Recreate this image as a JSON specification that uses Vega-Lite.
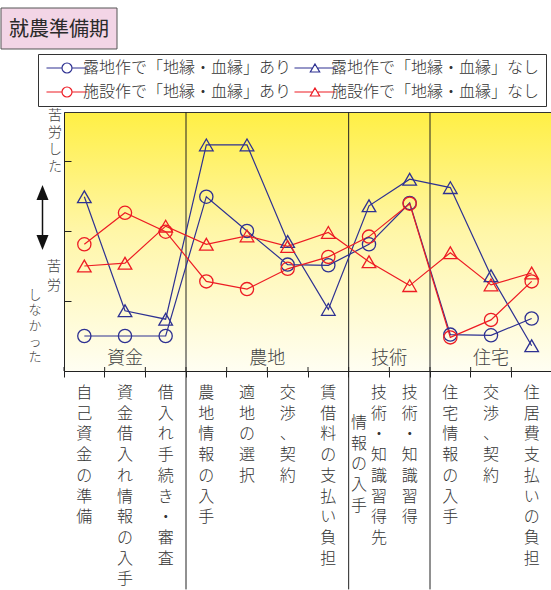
{
  "$schema": "https://vega.github.io/schema/vega-lite/v6.json",
  "autosize": {"type": "none"},
  "padding": {"left": 64, "top": 112, "right": 0, "bottom": 220},
  "width": 488,
  "height": 259,
  "config": {
    "font": "Noto Sans CJK JP",
    "text": {"fontWeight": 300},
    "axis": {"domainColor": "#222", "tickColor": "#222", "domainWidth": 1, "tickWidth": 1, "grid": false, "labels": false},
    "legend": {
      "orient": "none", "legendX": -26, "legendY": -58, "columns": 2, "direction": "horizontal",
      "symbolSize": 144, "symbolStrokeWidth": 1.2, "symbolOffset": 15, "labelOffset": 8,
      "labelFontSize": 16, "labelFontWeight": 300, "labelColor": "#333333", "labelFont": "Noto Sans CJK JP", "labelLimit": 0,
      "columnPadding": -4, "rowPadding": 8, "padding": 6, "strokeColor": "#333333", "fillColor": "#ffffff"
    }
  },
  "view": {
    "fill": {"gradient": "linear", "x1": 0, "y1": 0, "x2": 0, "y2": 1, "stops": [
      {"offset": 0, "color": "#ffef45"},
      {"offset": 0.45, "color": "#fff6a6"},
      {"offset": 1, "color": "#fffef2"}
    ]},
    "stroke": "#333333",
    "strokeWidth": 1
  },
  "datasets": {
    "points": [
      {"series": "露地作で「地縁・血縁」あり", "item": "自己資金の準備", "value": 0.50},
      {"series": "露地作で「地縁・血縁」あり", "item": "資金借入れ情報の入手", "value": 0.50},
      {"series": "露地作で「地縁・血縁」あり", "item": "借入れ手続き・審査", "value": 0.50},
      {"series": "露地作で「地縁・血縁」あり", "item": "農地情報の入手", "value": 2.49},
      {"series": "露地作で「地縁・血縁」あり", "item": "適地の選択", "value": 2.00},
      {"series": "露地作で「地縁・血縁」あり", "item": "交渉、契約（農地）", "value": 1.52},
      {"series": "露地作で「地縁・血縁」あり", "item": "賃借料の支払い負担", "value": 1.51},
      {"series": "露地作で「地縁・血縁」あり", "item": "技術・知識習得先情報の入手", "value": 1.81},
      {"series": "露地作で「地縁・血縁」あり", "item": "技術・知識習得", "value": 2.40},
      {"series": "露地作で「地縁・血縁」あり", "item": "住宅情報の入手", "value": 0.52},
      {"series": "露地作で「地縁・血縁」あり", "item": "交渉、契約（住宅）", "value": 0.51},
      {"series": "露地作で「地縁・血縁」あり", "item": "住居費支払いの負担", "value": 0.75},
      {"series": "露地作で「地縁・血縁」なし", "item": "自己資金の準備", "value": 2.49},
      {"series": "露地作で「地縁・血縁」なし", "item": "資金借入れ情報の入手", "value": 0.86},
      {"series": "露地作で「地縁・血縁」なし", "item": "借入れ手続き・審査", "value": 0.74},
      {"series": "露地作で「地縁・血縁」なし", "item": "農地情報の入手", "value": 3.23},
      {"series": "露地作で「地縁・血縁」なし", "item": "適地の選択", "value": 3.23},
      {"series": "露地作で「地縁・血縁」なし", "item": "交渉、契約（農地）", "value": 1.85},
      {"series": "露地作で「地縁・血縁」なし", "item": "賃借料の支払い負担", "value": 0.88},
      {"series": "露地作で「地縁・血縁」なし", "item": "技術・知識習得先情報の入手", "value": 2.36},
      {"series": "露地作で「地縁・血縁」なし", "item": "技術・知識習得", "value": 2.74},
      {"series": "露地作で「地縁・血縁」なし", "item": "住宅情報の入手", "value": 2.62},
      {"series": "露地作で「地縁・血縁」なし", "item": "交渉、契約（住宅）", "value": 1.36},
      {"series": "露地作で「地縁・血縁」なし", "item": "住居費支払いの負担", "value": 0.36},
      {"series": "施設作で「地縁・血縁」あり", "item": "自己資金の準備", "value": 1.81},
      {"series": "施設作で「地縁・血縁」あり", "item": "資金借入れ情報の入手", "value": 2.26},
      {"series": "施設作で「地縁・血縁」あり", "item": "借入れ手続き・審査", "value": 1.99},
      {"series": "施設作で「地縁・血縁」あり", "item": "農地情報の入手", "value": 1.28},
      {"series": "施設作で「地縁・血縁」あり", "item": "適地の選択", "value": 1.17},
      {"series": "施設作で「地縁・血縁」あり", "item": "交渉、契約（農地）", "value": 1.46},
      {"series": "施設作で「地縁・血縁」あり", "item": "賃借料の支払い負担", "value": 1.63},
      {"series": "施設作で「地縁・血縁」あり", "item": "技術・知識習得先情報の入手", "value": 1.92},
      {"series": "施設作で「地縁・血縁」あり", "item": "技術・知識習得", "value": 2.39},
      {"series": "施設作で「地縁・血縁」あり", "item": "住宅情報の入手", "value": 0.48},
      {"series": "施設作で「地縁・血縁」あり", "item": "交渉、契約（住宅）", "value": 0.73},
      {"series": "施設作で「地縁・血縁」あり", "item": "住居費支払いの負担", "value": 1.28},
      {"series": "施設作で「地縁・血縁」なし", "item": "自己資金の準備", "value": 1.50},
      {"series": "施設作で「地縁・血縁」なし", "item": "資金借入れ情報の入手", "value": 1.54},
      {"series": "施設作で「地縁・血縁」なし", "item": "借入れ手続き・審査", "value": 2.07},
      {"series": "施設作で「地縁・血縁」なし", "item": "農地情報の入手", "value": 1.81},
      {"series": "施設作で「地縁・血縁」なし", "item": "適地の選択", "value": 1.93},
      {"series": "施設作で「地縁・血縁」なし", "item": "交渉、契約（農地）", "value": 1.78},
      {"series": "施設作で「地縁・血縁」なし", "item": "賃借料の支払い負担", "value": 1.98},
      {"series": "施設作で「地縁・血縁」なし", "item": "技術・知識習得先情報の入手", "value": 1.56},
      {"series": "施設作で「地縁・血縁」なし", "item": "技術・知識習得", "value": 1.22},
      {"series": "施設作で「地縁・血縁」なし", "item": "住宅情報の入手", "value": 1.69},
      {"series": "施設作で「地縁・血縁」なし", "item": "交渉、契約（住宅）", "value": 1.23},
      {"series": "施設作で「地縁・血縁」なし", "item": "住居費支払いの負担", "value": 1.40}
    ]
  },
  "layer": [
    {
      "data": {"values": [{"item": "自己資金の準備"}]},
      "mark": {"type": "point", "filled": true, "opacity": 1, "fill": "#f3d5e6", "stroke": "#555555", "strokeWidth": 1, "size": 13456, "shape": "M-1 -0.3534H1V0.3534H-1Z", "xOffset": -5, "yOffset": -83.5},
      "encoding": {
        "x": {"field": "item", "type": "nominal", "bandPosition": 0},
        "y": {"datum": 3.7, "type": "quantitative"}
      }
    },
    {
      "data": {"values": [{"item": "自己資金の準備", "title": "就農準備期"}]},
      "mark": {"type": "text", "fontSize": 20, "fontWeight": 400, "color": "#2a2a2a", "baseline": "middle", "align": "center", "dx": -5, "dy": -82},
      "encoding": {
        "x": {"field": "item", "type": "nominal", "bandPosition": 0},
        "y": {"datum": 3.7, "type": "quantitative"},
        "text": {"field": "title", "type": "nominal"}
      }
    },
    {
      "data": {"values": [{"item": "農地情報の入手"}, {"item": "技術・知識習得先情報の入手"}, {"item": "住宅情報の入手"}]},
      "mark": {"type": "rule", "color": "#222222", "strokeWidth": 1},
      "encoding": {
        "x": {"field": "item", "type": "nominal", "bandPosition": 0,
          "scale": {"type": "band", "paddingInner": 0, "paddingOuter": 0, "domain": ["自己資金の準備","資金借入れ情報の入手","借入れ手続き・審査","農地情報の入手","適地の選択","交渉、契約（農地）","賃借料の支払い負担","技術・知識習得先情報の入手","技術・知識習得","住宅情報の入手","交渉、契約（住宅）","住居費支払いの負担"]},
          "axis": {"bandPosition": 0, "labels": false, "ticks": true, "tickSize": 6, "title": null, "domain": true, "grid": false}},
        "y": {"datum": 3.7, "type": "quantitative", "scale": {"domain": [0, 3.7], "nice": false, "zero": false},
          "axis": {"values": [1, 2, 3], "labels": false, "ticks": true, "tickSize": -7, "title": null, "domain": true, "grid": false}},
        "y2": {"datum": -3.12}
      }
    },
    {
      "data": {"name": "points"},
      "transform": [{"filter": {"field": "series", "equal": "露地作で「地縁・血縁」あり"}}],
      "mark": {"type": "rule", "color": "#222222", "strokeWidth": 1, "y2Offset": -4},
      "encoding": {
        "x": {"field": "item", "type": "nominal", "bandPosition": 0},
        "y": {"datum": 0, "type": "quantitative"},
        "y2": {"datum": 0}
      }
    },
    {
      "data": {"name": "points"},
      "mark": {"type": "line", "strokeWidth": 1.2},
      "encoding": {
        "x": {"field": "item", "type": "nominal", "bandPosition": 0.5, "title": null,
          "scale": {"type": "band", "paddingInner": 0, "paddingOuter": 0, "domain": ["自己資金の準備","資金借入れ情報の入手","借入れ手続き・審査","農地情報の入手","適地の選択","交渉、契約（農地）","賃借料の支払い負担","技術・知識習得先情報の入手","技術・知識習得","住宅情報の入手","交渉、契約（住宅）","住居費支払いの負担"]}},
        "y": {"field": "value", "type": "quantitative", "title": null, "scale": {"domain": [0, 3.7], "nice": false, "zero": false}},
        "color": {"field": "series", "type": "nominal", "title": null,
          "scale": {"domain": ["露地作で「地縁・血縁」あり","露地作で「地縁・血縁」なし","施設作で「地縁・血縁」あり","施設作で「地縁・血縁」なし"], "range": ["#2e3192","#2e3192","#ed1c24","#ed1c24"]}},
        "order": {"value": null}
      }
    },
    {
      "data": {"name": "points"},
      "transform": [{"filter": {"field": "series", "oneOf": ["露地作で「地縁・血縁」あり", "施設作で「地縁・血縁」あり"]}}],
      "mark": {"type": "point", "shape": "circle", "filled": false, "size": 175, "strokeWidth": 1.3, "opacity": 1},
      "encoding": {
        "x": {"field": "item", "type": "nominal", "bandPosition": 0.5, "title": null},
        "y": {"field": "value", "type": "quantitative", "title": null},
        "color": {"field": "series", "type": "nominal", "title": null}
      }
    },
    {
      "data": {"name": "points"},
      "transform": [{"filter": {"field": "series", "oneOf": ["露地作で「地縁・血縁」なし", "施設作で「地縁・血縁」なし"]}}],
      "mark": {"type": "point", "shape": "triangle-up", "filled": false, "size": 185, "strokeWidth": 1.3, "opacity": 1},
      "encoding": {
        "x": {"field": "item", "type": "nominal", "bandPosition": 0.5, "title": null},
        "y": {"field": "value", "type": "quantitative", "title": null},
        "color": {"field": "series", "type": "nominal", "title": null}
      }
    },
    {
      "data": {"name": "points"},
      "transform": [{"filter": "false"}],
      "mark": {"type": "point", "filled": false, "opacity": 1},
      "encoding": {
        "x": {"field": "item", "type": "nominal", "title": null},
        "y": {"field": "value", "type": "quantitative", "title": null},
        "color": {"field": "series", "type": "nominal", "title": null},
        "shape": {"field": "series", "type": "nominal", "title": null,
          "scale": {"domain": ["露地作で「地縁・血縁」あり","露地作で「地縁・血縁」なし","施設作で「地縁・血縁」あり","施設作で「地縁・血縁」なし"],
            "range": [
              "M-3.42 0H-0.833M0.833 0H3.42M0.833 0A0.833 0.833 0 1 1 -0.833 0A0.833 0.833 0 1 1 0.833 0",
              "M-3.42 0H-0.39M0.39 0H3.42M0 -0.67L0.78 0.67L-0.78 0.67Z",
              "M-3.42 0H-0.833M0.833 0H3.42M0.833 0A0.833 0.833 0 1 1 -0.833 0A0.833 0.833 0 1 1 0.833 0",
              "M-3.42 0H-0.39M0.39 0H3.42M0 -0.67L0.78 0.67L-0.78 0.67Z"
            ]}}
      }
    },
    {
      "data": {"values": [{"group": "資金", "item": "資金借入れ情報の入手"}, {"group": "住宅", "item": "交渉、契約（住宅）"}]},
      "mark": {"type": "text", "fontSize": 18, "color": "#444444", "baseline": "middle", "align": "center"},
      "encoding": {
        "x": {"field": "item", "type": "nominal", "bandPosition": 0.5},
        "y": {"datum": 0.17, "type": "quantitative"},
        "text": {"field": "group", "type": "nominal"}
      }
    },
    {
      "data": {"values": [{"group": "農地", "item": "交渉、契約（農地）"}, {"group": "技術", "item": "技術・知識習得"}]},
      "mark": {"type": "text", "fontSize": 18, "color": "#444444", "baseline": "middle", "align": "center"},
      "encoding": {
        "x": {"field": "item", "type": "nominal", "bandPosition": 0},
        "y": {"datum": 0.17, "type": "quantitative"},
        "text": {"field": "group", "type": "nominal"}
      }
    },
    {
      "data": {"values": [
        {"item": "自己資金の準備", "label": "自\n己\n資\n金\nの\n準\n備"},
        {"item": "資金借入れ情報の入手", "label": "資\n金\n借\n入\nれ\n情\n報\nの\n入\n手"},
        {"item": "借入れ手続き・審査", "label": "借\n入\nれ\n手\n続\nき\n・\n審\n査"},
        {"item": "農地情報の入手", "label": "農\n地\n情\n報\nの\n入\n手"},
        {"item": "適地の選択", "label": "適\n地\nの\n選\n択"},
        {"item": "交渉、契約（農地）", "label": "交\n渉\n、\n契\n約"},
        {"item": "賃借料の支払い負担", "label": "賃\n借\n料\nの\n支\n払\nい\n負\n担"},
        {"item": "技術・知識習得", "label": "技\n術\n・\n知\n識\n習\n得"},
        {"item": "住宅情報の入手", "label": "住\n宅\n情\n報\nの\n入\n手"},
        {"item": "交渉、契約（住宅）", "label": "交\n渉\n、\n契\n約"},
        {"item": "住居費支払いの負担", "label": "住\n居\n費\n支\n払\nい\nの\n負\n担"}
      ]},
      "mark": {"type": "text", "fontSize": 16, "color": "#333333", "baseline": "top", "align": "center", "lineBreak": "\n", "lineHeight": 20.7, "dy": 14},
      "encoding": {
        "x": {"field": "item", "type": "nominal", "bandPosition": 0.5},
        "y": {"datum": 0, "type": "quantitative"},
        "text": {"field": "label", "type": "nominal"}
      }
    },
    {
      "data": {"values": [{"item": "技術・知識習得先情報の入手", "label": "技\n術\n・\n知\n識\n習\n得\n先"}]},
      "mark": {"type": "text", "fontSize": 16, "color": "#333333", "baseline": "top", "align": "center", "lineBreak": "\n", "lineHeight": 20.7, "dy": 14, "dx": 10},
      "encoding": {
        "x": {"field": "item", "type": "nominal", "bandPosition": 0.5},
        "y": {"datum": 0, "type": "quantitative"},
        "text": {"field": "label", "type": "nominal"}
      }
    },
    {
      "data": {"values": [{"item": "技術・知識習得先情報の入手", "label": "情\n報\nの\n入\n手"}]},
      "mark": {"type": "text", "fontSize": 16, "color": "#333333", "baseline": "top", "align": "center", "lineBreak": "\n", "lineHeight": 20.7, "dy": 44, "dx": -10},
      "encoding": {
        "x": {"field": "item", "type": "nominal", "bandPosition": 0.5},
        "y": {"datum": 0, "type": "quantitative"},
        "text": {"field": "label", "type": "nominal"}
      }
    },
    {
      "data": {"values": [{"item": "自己資金の準備", "note": "苦\n労\nし\nた"}]},
      "mark": {"type": "text", "fontSize": 14, "color": "#444444", "baseline": "top", "align": "center", "lineBreak": "\n", "lineHeight": 17, "dx": -9},
      "encoding": {
        "x": {"field": "item", "type": "nominal", "bandPosition": 0},
        "y": {"datum": 3.739, "type": "quantitative"},
        "text": {"field": "note", "type": "nominal"}
      }
    },
    {
      "data": {"values": [{"item": "自己資金の準備", "note": "苦\n労"}]},
      "mark": {"type": "text", "fontSize": 14, "color": "#444444", "baseline": "top", "align": "center", "lineBreak": "\n", "lineHeight": 18.3, "dx": -10},
      "encoding": {
        "x": {"field": "item", "type": "nominal", "bandPosition": 0},
        "y": {"datum": 1.579, "type": "quantitative"},
        "text": {"field": "note", "type": "nominal"}
      }
    },
    {
      "data": {"values": [{"item": "自己資金の準備", "note": "し\nな\nか\nっ\nた"}]},
      "mark": {"type": "text", "fontSize": 13, "color": "#444444", "baseline": "top", "align": "center", "lineBreak": "\n", "lineHeight": 15.6, "dx": -29},
      "encoding": {
        "x": {"field": "item", "type": "nominal", "bandPosition": 0},
        "y": {"datum": 1.174, "type": "quantitative"},
        "text": {"field": "note", "type": "nominal"}
      }
    },
    {
      "data": {"values": [{"item": "自己資金の準備"}]},
      "mark": {"type": "rule", "color": "#111111", "strokeWidth": 1.5, "xOffset": -21.5},
      "encoding": {
        "x": {"field": "item", "type": "nominal", "bandPosition": 0},
        "y": {"datum": 2.55, "type": "quantitative"},
        "y2": {"datum": 1.836}
      }
    },
    {
      "data": {"values": [{"item": "自己資金の準備"}]},
      "mark": {"type": "point", "filled": true, "opacity": 1, "color": "#111111", "size": 225, "shape": "M0 -1L0.8 1L-0.8 1Z", "xOffset": -21.5},
      "encoding": {
        "x": {"field": "item", "type": "nominal", "bandPosition": 0},
        "y": {"datum": 2.55, "type": "quantitative"}
      }
    },
    {
      "data": {"values": [{"item": "自己資金の準備"}]},
      "mark": {"type": "point", "filled": true, "opacity": 1, "color": "#111111", "size": 225, "shape": "M0 1L0.8 -1L-0.8 -1Z", "xOffset": -21.5},
      "encoding": {
        "x": {"field": "item", "type": "nominal", "bandPosition": 0},
        "y": {"datum": 1.836, "type": "quantitative"}
      }
    }
  ]
}
